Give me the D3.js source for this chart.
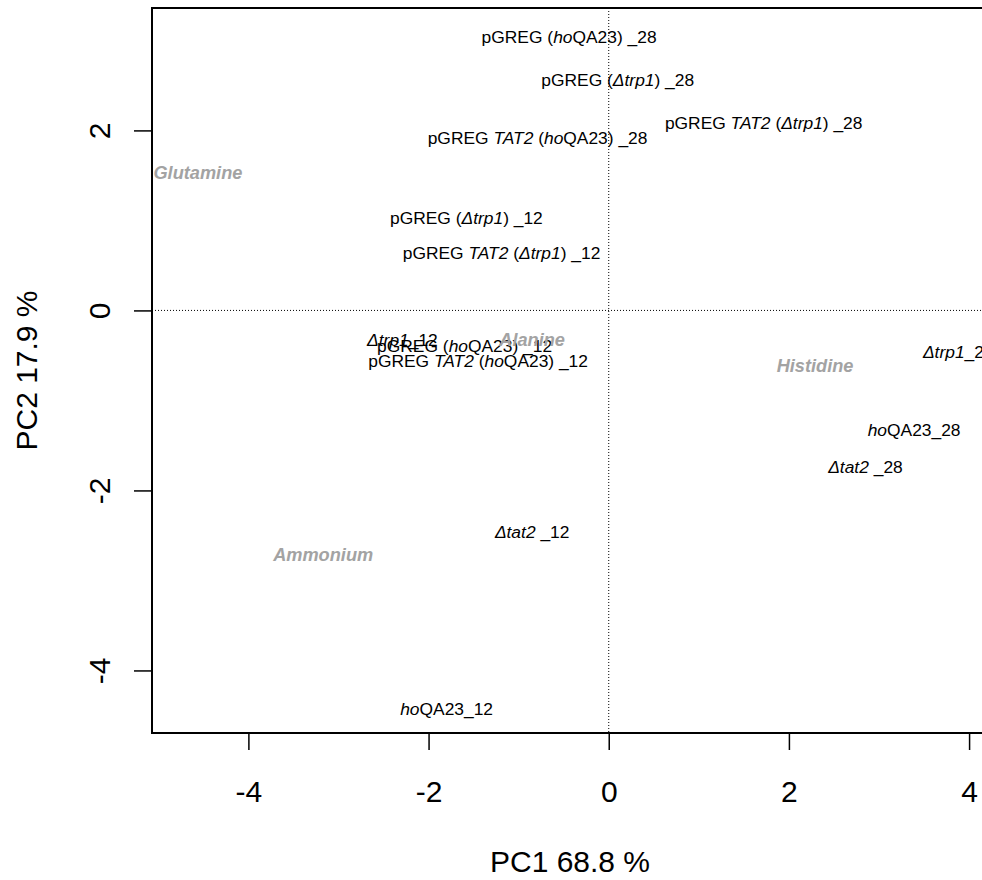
<!DOCTYPE html>
<html>
<head>
<meta charset="utf-8">
<script src="https://cdn.jsdelivr.net/npm/d3@7"></script>
<style>
  body { margin: 0; background: #fff; }
  svg { display: block; font-family: "Liberation Sans", Arial, sans-serif; }
</style>
</head>
<body>
<svg id="pca" width="982" height="880"></svg>
<script>
// sample scores (text between * is italic)
var sampleLabels = [
  "pGREG (*ho*QA23) _28", "pGREG (*Δtrp1*) _28", "pGREG *TAT2* (*Δtrp1*) _28",
  "pGREG *TAT2* (*ho*QA23) _28", "pGREG (*Δtrp1*) _12", "pGREG *TAT2* (*Δtrp1*) _12",
  "*Δtrp1*_12", "pGREG (*ho*QA23) _12", "pGREG *TAT2* (*ho*QA23) _12",
  "*Δtrp1*_28", "*ho*QA23_28", "*Δtat2* _28", "*Δtat2* _12", "*ho*QA23_12"
];
var sampleX = [-0.44, 0.10, 1.72, -0.79, -1.58, -1.19, -2.29, -1.60, -1.45, 3.88, 3.39, 2.85, -0.85, -1.80];
var sampleY = [3.04, 2.56, 2.08, 1.92, 1.03, 0.64, -0.33, -0.39, -0.56, -0.46, -1.33, -1.74, -2.46, -4.43];

// variable loadings
var varNames = ["Glutamine", "Alanine", "Histidine", "Ammonium"];
var varX = [-4.56, -0.85, 2.29, -3.17];
var varY = [1.53, -0.33, -0.61, -2.71];

var xTicks = [-4, -2, 0, 2, 4];
var yTicks = [-4, -2, 0, 2];
var xTitle = "PC1 68.8 %";
var yTitle = "PC2 17.9 %";

var svg = d3.select("#pca");
var mLeft = 152, mTop = 8, mRight = 988, mBottom = 733;

var xScale = d3.scaleLinear().domain([-5.07, 4.21]).range([mLeft, mRight]);
var yScale = d3.scaleLinear().domain([-4.695, 3.36]).range([mBottom, mTop]);

// reference lines
svg.append("line")
  .attr("x1", xScale(0)).attr("x2", xScale(0))
  .attr("y1", mTop).attr("y2", mBottom)
  .attr("stroke", "#000").attr("stroke-width", 1)
  .attr("stroke-dasharray", "1,2");
svg.append("line")
  .attr("x1", mLeft).attr("x2", mRight)
  .attr("y1", yScale(0)).attr("y2", yScale(0))
  .attr("stroke", "#000").attr("stroke-width", 1)
  .attr("stroke-dasharray", "1,2");

function addRich(sel, str) {
  str.split("*").forEach(function(part, i) {
    if (part === "") return;
    sel.append("tspan")
      .attr("font-style", i % 2 === 1 ? "italic" : "normal")
      .text(part);
  });
}

// sample labels
svg.append("g").selectAll("text")
  .data(sampleLabels)
  .enter().append("text")
  .attr("x", function(d, i) { return xScale(sampleX[i]); })
  .attr("y", function(d, i) { return yScale(sampleY[i]); })
  .attr("dy", "0.35em")
  .attr("text-anchor", "middle")
  .attr("font-size", 17.4)
  .attr("fill", "#000")
  .each(function(d) { addRich(d3.select(this), d); });

// variable labels
svg.append("g").selectAll("text")
  .data(varNames)
  .enter().append("text")
  .attr("x", function(d, i) { return xScale(varX[i]); })
  .attr("y", function(d, i) { return yScale(varY[i]); })
  .attr("dy", "0.35em")
  .attr("text-anchor", "middle")
  .attr("font-size", 18.2)
  .attr("font-weight", "bold")
  .attr("font-style", "italic")
  .attr("fill", "#a3a3a3")
  .text(function(d) { return d; });

// box
svg.append("rect")
  .attr("x", mLeft).attr("y", mTop)
  .attr("width", mRight - mLeft).attr("height", mBottom - mTop)
  .attr("fill", "none").attr("stroke", "#000").attr("stroke-width", 2);

var fmt = function(d) { return String(d); };

// x axis
var xAxis = svg.append("g")
  .attr("transform", "translate(0," + mBottom + ")")
  .call(d3.axisBottom(xScale).tickValues(xTicks).tickSize(17).tickPadding(31).tickFormat(fmt));
xAxis.select(".domain").remove();
xAxis.selectAll("line").attr("stroke-width", 1.5);
xAxis.selectAll("text").attr("font-size", 30).attr("font-family", "Liberation Sans, Arial, sans-serif").attr("fill", "#000");

// y axis
var yAxis = svg.append("g")
  .attr("transform", "translate(" + mLeft + ",0)")
  .call(d3.axisLeft(yScale).tickValues(yTicks).tickSize(18).tickFormat(fmt));
yAxis.select(".domain").remove();
yAxis.selectAll("line").attr("stroke-width", 1.5);
yAxis.selectAll("text")
  .attr("font-size", 30).attr("font-family", "Liberation Sans, Arial, sans-serif").attr("fill", "#000")
  .attr("x", null).attr("dy", null)
  .attr("text-anchor", "middle")
  .attr("transform", "translate(-42,0) rotate(-90)");

// axis titles
svg.append("text")
  .attr("x", (mLeft + mRight) / 2).attr("y", 872)
  .attr("text-anchor", "middle").attr("font-size", 30)
  .text(xTitle);
svg.append("text")
  .attr("transform", "translate(37," + ((mTop + mBottom) / 2) + ") rotate(-90)")
  .attr("text-anchor", "middle").attr("font-size", 30)
  .text(yTitle);
</script>
</body>
</html>
